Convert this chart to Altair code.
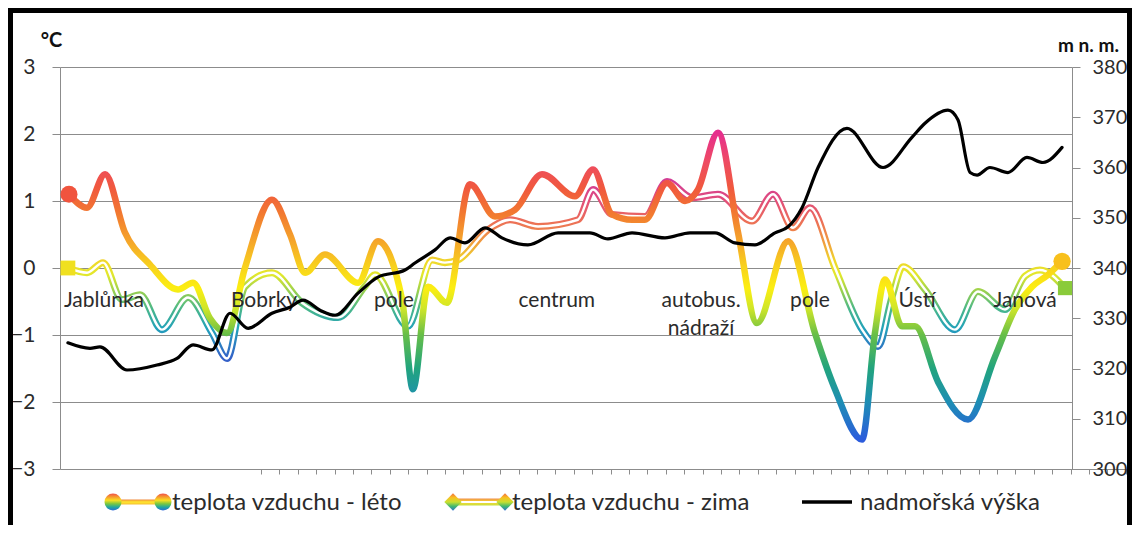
import altair as alt
import pandas as pd

# ---------------- data ----------------
# positions along the route, in category units (55 measuring points)
summer_pos = [0.49, 1.47, 2.45, 3.53, 4.89, 6.41, 7.23, 8.15, 9.08, 10.05,
              11.52, 12.5, 13.32, 14.40, 16.20, 17.28, 18.59, 19.18, 20.0, 21.03,
              22.28, 23.64, 24.73, 26.2, 27.99, 28.97, 30.0, 31.09, 31.79, 32.99,
              33.97, 34.67, 35.76, 36.85, 37.88, 39.57, 41.03, 42.12, 43.59, 44.29,
              44.84, 45.76, 46.47, 47.72, 49.35, 50.82, 51.90, 52.83, 53.70, 54.46]
summer_temp = [1.1, 0.9, 1.4, 0.53, 0.05, -0.32, -0.22, -0.75, -0.97, 0.0,
               1.02, 0.5, -0.07, 0.2, -0.22, 0.4, -0.47, -1.81, -0.28, -0.52,
               1.25, 0.77, 0.87, 1.4, 1.07, 1.47, 0.8, 0.72, 0.72, 1.27,
               1.0, 1.17, 2.02, 0.53, -0.82, 0.4, -0.97, -1.81, -2.56, -0.97,
               -0.17, -0.87, -0.87, -1.7, -2.26, -1.32, -0.62, -0.28, -0.1, 0.1]

winter_pos = [0.43, 1.47, 2.34, 3.37, 4.35, 5.54, 6.96, 8.26, 9.08, 10.05,
              11.52, 13.15, 15.11, 16.58, 17.12, 18.91, 20.22, 20.92, 21.63, 23.26,
              24.46, 25.98, 28.15, 28.97, 30.0, 31.79, 32.99, 34.35, 35.76, 37.61,
              38.75, 39.84, 40.76, 42.12, 43.59, 44.46, 45.22, 45.82, 47.01, 48.64,
              49.89, 51.36, 52.45, 53.26, 54.62]
winter_temp = [0.0, -0.07, 0.08, -0.47, -0.4, -0.92, -0.44, -0.97, -1.35, -0.28,
               -0.07, -0.52, -0.74, -0.27, -0.1, -0.87, 0.12, 0.08, 0.12, 0.57,
               0.72, 0.62, 0.72, 1.17, 0.8, 0.77, 1.29, 1.05, 1.1, 0.7,
               1.1, 0.6, 0.9, 0.0, -0.92, -1.17, -0.43, 0.02, -0.32, -0.92,
               -0.35, -0.62, -0.12, -0.03, -0.3]

elev_pos = [0.43, 1.63, 2.17, 3.64, 5.27, 6.36, 7.23, 8.26, 9.24, 10.22,
            11.52, 12.5, 13.21, 14.13, 14.95, 16.2, 17.28, 18.75, 19.29, 20.38,
            21.2, 22.01, 23.1, 24.02, 25.43, 27.07, 28.8, 29.78, 31.09, 32.88,
            34.24, 35.6, 36.68, 37.77, 38.86, 39.57, 40.33, 41.2, 42.77, 44.73,
            46.3, 47.01, 48.26, 48.8, 49.46, 49.84, 50.54, 51.52, 52.55, 53.42,
            54.46]
elev_m = [325.1, 324.0, 324.3, 319.7, 320.7, 322.0, 324.7, 323.7, 331.0, 328.0,
          331.0, 332.2, 333.6, 331.6, 330.6, 335.0, 338.2, 339.6, 341.0, 343.6,
          346.0, 345.0, 348.0, 346.0, 344.6, 347.0, 347.0, 345.8, 347.0, 346.0,
          347.0, 347.0, 345.0, 344.6, 347.0, 348.2, 352.0, 360.0, 367.8, 360.0,
          366.0, 368.8, 371.4, 369.5, 359.0, 358.5, 360.0, 359.0, 362.0, 361.0,
          364.0]

place_names = ["Jablůnka", "Bobrky", "pole", "centrum", "autobus.\nnádraží",
               "pole", "Ústí", "Janová"]
place_pos = [2.39, 11.09, 18.15, 27.0, 34.84, 40.76, 46.58, 52.45]

n_categories = 55
temp_ticks = [-3, -2, -1, 0, 1, 2, 3]
elev_ticks = [300, 310, 320, 330, 340, 350, 360, 370, 380]

legend_labels = ["teplota vzduchu - léto", "teplota vzduchu - zima", "nadmořská výška"]

# ---------------- styling ----------------
FONT = "Lato"
TXT = "#2b2b2b"
GRID = "#8c8c8c"
W, H = 1012, 402

summer_stops = [(2.02, "#E62E8E"), (1.6, "#EE4A64"), (1.2, "#F0583E"), (0.8, "#F27A30"),
                (0.4, "#F5A52A"), (0.0, "#F8D41C"), (-0.3, "#FCEE12"), (-0.6, "#D0E628"),
                (-1.0, "#66BE48"), (-1.5, "#22A47E"), (-2.0, "#1E8EB4"), (-2.56, "#2B5CDC")]
winter_stops = [(1.29, "#D23C96"), (1.0, "#E24E7A"), (0.7, "#EC6E58"), (0.4, "#F09A40"),
                (0.1, "#F0D82A"), (-0.1, "#E2E82C"), (-0.35, "#98D050"), (-0.6, "#4CB888"),
                (-0.9, "#22A2BA"), (-1.37, "#3460C8")]


def vgrad(stops, tmax, tmin):
    out = []
    for t, c in stops:
        off = (tmax - t) / (tmax - tmin)
        off = min(1.0, max(0.0, off))
        out.append({"offset": off, "color": c})
    return {"gradient": "linear", "x1": 0, "y1": 0, "x2": 0, "y2": 1, "stops": out}


def vgrad_plain(colors):
    n = len(colors) - 1
    return {"gradient": "linear", "x1": 0, "y1": 0, "x2": 0, "y2": 1,
            "stops": [{"offset": i / n, "color": c} for i, c in enumerate(colors)]}


summer_grad = vgrad(summer_stops, max(summer_temp), min(summer_temp))
winter_grad = vgrad(winter_stops, max(winter_temp), min(winter_temp))

summer_df = pd.DataFrame({"pos": summer_pos, "temp": summer_temp})
winter_df = pd.DataFrame({"pos": winter_pos, "temp": winter_temp})
elev_df = pd.DataFrame({"pos": elev_pos, "m": elev_m})
place_df = pd.DataFrame({"pos": place_pos, "name": place_names})
one = pd.DataFrame({"k": [0]})

xscale = alt.Scale(domain=[0, n_categories], nice=False, zero=False)
xaxis = alt.Axis(values=list(range(n_categories + 1)), orient="bottom", position=H / 2,
                 labels=False, tickSize=5, tickColor=GRID, domainColor=GRID,
                 grid=False, title=None)


def X(field="pos:Q"):
    return alt.X(field, scale=xscale, axis=xaxis)


tscale = alt.Scale(domain=[-3, 3], nice=False, zero=False)
taxis = alt.Axis(values=temp_ticks, orient="left", grid=True, gridColor=GRID, gridWidth=1,
                 domainColor=GRID, tickColor=GRID, tickSize=8, labelFontSize=21,
                 labelFont=FONT, labelColor=TXT, labelPadding=17, format="d",
                 title="°C", titleAngle=0, titleX=-9, titleY=-27, titleAlign="center",
                 titleBaseline="middle", titleFontSize=20, titleFont=FONT,
                 titleFontWeight="bold", titleColor="#111111")


def YT(field="temp:Q"):
    return alt.Y(field, scale=tscale, axis=taxis)


labels = alt.Chart(place_df).mark_text(
    font=FONT, fontSize=21, color=TXT, baseline="top", align="center",
    lineBreak="\n", lineHeight=28
).encode(x=X(), y=alt.value(223), text="name:N")

summer_line = alt.Chart(summer_df).mark_line(
    interpolate="monotone", stroke=summer_grad, strokeWidth=6.5,
    strokeCap="round", strokeJoin="round"
).encode(x=X(), y=YT())

winter_outer = alt.Chart(winter_df).mark_line(
    interpolate="monotone", stroke=winter_grad, strokeWidth=7,
    strokeCap="round", strokeJoin="round"
).encode(x=X(), y=YT())

winter_inner = alt.Chart(winter_df).mark_line(
    interpolate="monotone", stroke="white", strokeWidth=2.4,
    strokeCap="round", strokeJoin="round"
).encode(x=X(), y=YT())

s_start = alt.Chart(summer_df.iloc[[0]]).mark_point(
    shape="circle", filled=True, size=290, opacity=1, fill="#F0543E", strokeWidth=0
).encode(x=X(), y=YT())
s_end = alt.Chart(summer_df.iloc[[-1]]).mark_point(
    shape="circle", filled=True, size=300, opacity=1, fill="#F8C01C", strokeWidth=0
).encode(x=X(), y=YT())
w_start = alt.Chart(winter_df.iloc[[0]]).mark_point(
    shape="square", filled=True, size=220, opacity=1, fill="#F0E020", strokeWidth=0
).encode(x=X(), y=YT())
w_end = alt.Chart(winter_df.iloc[[-1]]).mark_point(
    shape="square", filled=True, size=200, opacity=1, fill="#8ACB3A", strokeWidth=0
).encode(x=X(), y=YT())

temps = alt.layer(winter_outer, winter_inner, summer_line,
                  w_start, w_end, s_start, s_end, labels)

eaxis = alt.Axis(values=elev_ticks, orient="right", grid=False, domainColor=GRID,
                 tickColor=GRID, tickSize=8, labelFontSize=20, labelFont=FONT,
                 labelColor=TXT, labelPadding=12,
                 title="m n. m.", titleAngle=0, titleX=16, titleY=-22,
                 titleAlign="center", titleBaseline="middle", titleFontSize=19,
                 titleFont=FONT, titleFontWeight="bold", titleColor="#111111")

elev_line = alt.Chart(elev_df).mark_line(
    interpolate="monotone", color="black", strokeWidth=3.2,
    strokeCap="round", strokeJoin="round"
).encode(x=X(), y=alt.Y("m:Q", scale=alt.Scale(domain=[300, 380], nice=False, zero=False),
                        axis=eaxis))

# ---------------- custom legend ----------------
LY = 435
rainbow = ["#F0504A", "#F59A30", "#F8E020", "#7CC840", "#20A8A0", "#2E6AD8"]
rainbow_d = ["#F07040", "#F8C020", "#C8E030", "#40B870", "#2E70D0"]

leg_s_line = alt.Chart(one).mark_rect(
    fill=vgrad_plain(["#F08A3A", "#FFE830", "#F5C030"])
).encode(x=alt.value(53), x2=alt.value(103), y=alt.value(LY - 2.5), y2=alt.value(LY + 2.5))
leg_s_c1 = alt.Chart(one).mark_point(
    shape="circle", filled=True, size=290, opacity=1, fill=vgrad_plain(rainbow), strokeWidth=0
).encode(x=alt.value(53), y=alt.value(LY))
leg_s_c2 = alt.Chart(one).mark_point(
    shape="circle", filled=True, size=290, opacity=1, fill=vgrad_plain(rainbow), strokeWidth=0
).encode(x=alt.value(103), y=alt.value(LY))

leg_w_line = alt.Chart(one).mark_rect(
    fill=vgrad_plain(["#F09048", "#F8D830", "#C8E040"])
).encode(x=alt.value(393), x2=alt.value(445), y=alt.value(LY - 3.5), y2=alt.value(LY + 3.5))
leg_w_inner = alt.Chart(one).mark_rule(color="white", strokeWidth=2.2).encode(
    x=alt.value(393), x2=alt.value(445), y=alt.value(LY))
leg_w_d1 = alt.Chart(one).mark_point(
    shape="diamond", filled=True, size=300, opacity=1, fill=vgrad_plain(rainbow_d), strokeWidth=0
).encode(x=alt.value(393), y=alt.value(LY))
leg_w_d2 = alt.Chart(one).mark_point(
    shape="diamond", filled=True, size=300, opacity=1, fill=vgrad_plain(rainbow_d), strokeWidth=0
).encode(x=alt.value(445), y=alt.value(LY))

leg_e_line = alt.Chart(one).mark_rule(color="black", strokeWidth=3.5).encode(
    x=alt.value(742), x2=alt.value(792), y=alt.value(LY))


def leg_text(label, x):
    return alt.Chart(one).mark_text(
        font=FONT, fontSize=24, color=TXT, align="left", baseline="middle"
    ).encode(x=alt.value(x), y=alt.value(LY + 1), text=alt.value(label))


leg_t1 = leg_text(legend_labels[0], 112)
leg_t2 = leg_text(legend_labels[1], 452)
leg_t3 = leg_text(legend_labels[2], 800)

border = alt.Chart(one).mark_rect(
    fillOpacity=0, stroke="black", strokeWidth=5
).encode(x=alt.value(-49.5), x2=alt.value(1069.5), y=alt.value(-56.5), y2=alt.value(480))

chart = alt.layer(
    temps, elev_line,
    leg_s_line, leg_s_c1, leg_s_c2,
    leg_w_line, leg_w_inner, leg_w_d1, leg_w_d2,
    leg_e_line, leg_t1, leg_t2, leg_t3,
    border
).resolve_scale(y="independent").properties(
    width=W, height=H,
    padding={"left": 52, "top": 59, "right": 60, "bottom": 56},
    autosize=alt.AutoSizeParams(type="none"),
    background="white"
).configure_view(stroke=None)

chart.save("out.html", embed_options={"renderer": "svg", "actions": False})
